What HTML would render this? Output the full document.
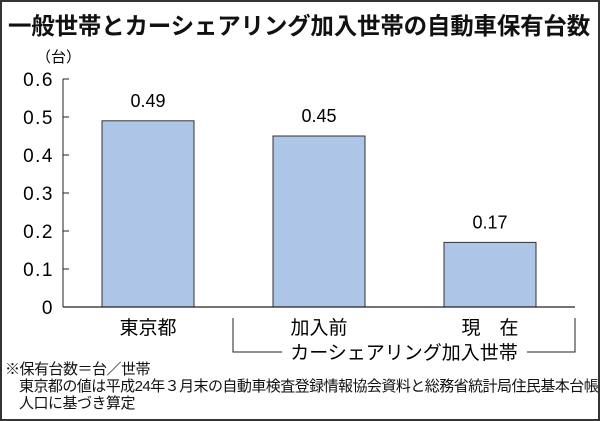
<!DOCTYPE html>
<html><head><meta charset="utf-8"><style>
body{margin:0;background:#fff}
#c{position:relative;width:600px;height:421px;box-sizing:border-box;border:2px solid #333;overflow:hidden;font-family:"Liberation Sans","Noto Sans CJK JP",sans-serif;color:#111}
.t{position:absolute;white-space:nowrap}
</style></head><body>
<div id="c">
<div class="t" style="left:6px;top:5px;font-size:23.5px;font-weight:bold;letter-spacing:-0.2px">一般世帯とカーシェアリング加入世帯の自動車保有台数</div>
<svg width="600" height="421" style="position:absolute;left:-2px;top:-2px">
<g id="g" font-family="Liberation Sans, Noto Sans CJK JP, sans-serif"></g>
</svg>
<div class="t" style="left:3px;top:356px;font-size:15px;letter-spacing:-0.5px">※保有台数＝台／世帯</div>
<div class="t" style="left:17px;top:373px;font-size:15px;letter-spacing:-0.55px">東京都の値は平成24年３月末の自動車検査登録情報協会資料と総務省統計局住民基本台帳</div>
<div class="t" style="left:17px;top:390px;font-size:15px;letter-spacing:-0.5px">人口に基づき算定</div>
</div>
<script>
const categories=["東京都","加入前","現　在"];
const values=[0.49,0.45,0.17];
const valueLabels=["0.49","0.45","0.17"];
const ticks=[0,0.1,0.2,0.3,0.4,0.5,0.6];
const tickLabels=["0","0.1","0.2","0.3","0.4","0.5","0.6"];
const NS="http://www.w3.org/2000/svg",g=document.getElementById('g');
const y=v=>307-v*380, x0=102, step=171, bw=92;
function mk(t,a,txt){const e=document.createElementNS(NS,t);for(const k in a)e.setAttribute(k,a[k]);if(txt!=null)e.textContent=txt;g.appendChild(e);return e;}
let e=mk('text',{x:36,y:62,'font-size':15},'（台）');


e=mk('line',{x1:63,y1:y(0.6),x2:63,y2:y(0),stroke:'#222','stroke-width':1});


ticks.forEach((t,i)=>{
 if(t>0){e=mk('line',{x1:63,y1:y(t),x2:69,y2:y(t),stroke:'#222'});
 
 }
 e=mk('text',{x:54,y:y(t)+7,'font-size':19,'text-anchor':'end','letter-spacing':'1.5'},tickLabels[i]);
 
 
});
values.forEach((v,i)=>{
 const bx=x0+i*step;
 e=mk('rect',{x:bx,y:y(v),width:bw,height:y(0)-y(v),fill:'#adc6e8',stroke:'#333','stroke-width':1});
 
 
 e=mk('text',{x:bx+bw/2,y:y(v)-14,'font-size':18,'text-anchor':'middle'},valueLabels[i]);
 
 
 e=mk('text',{x:bx+bw/2,y:334,'font-size':19,'text-anchor':'middle'},categories[i]);
 
 
});
e=mk('line',{x1:63,y1:y(0),x2:575,y2:y(0),stroke:'#222','stroke-width':1.2});


e=mk('path',{d:'M233 318 V352 H282 M527 352 H575 V318',fill:'none',stroke:'#222'});


e=mk('text',{x:404,y:359,'font-size':19,'text-anchor':'middle'},'カーシェアリング加入世帯');


</script>
</body></html>
